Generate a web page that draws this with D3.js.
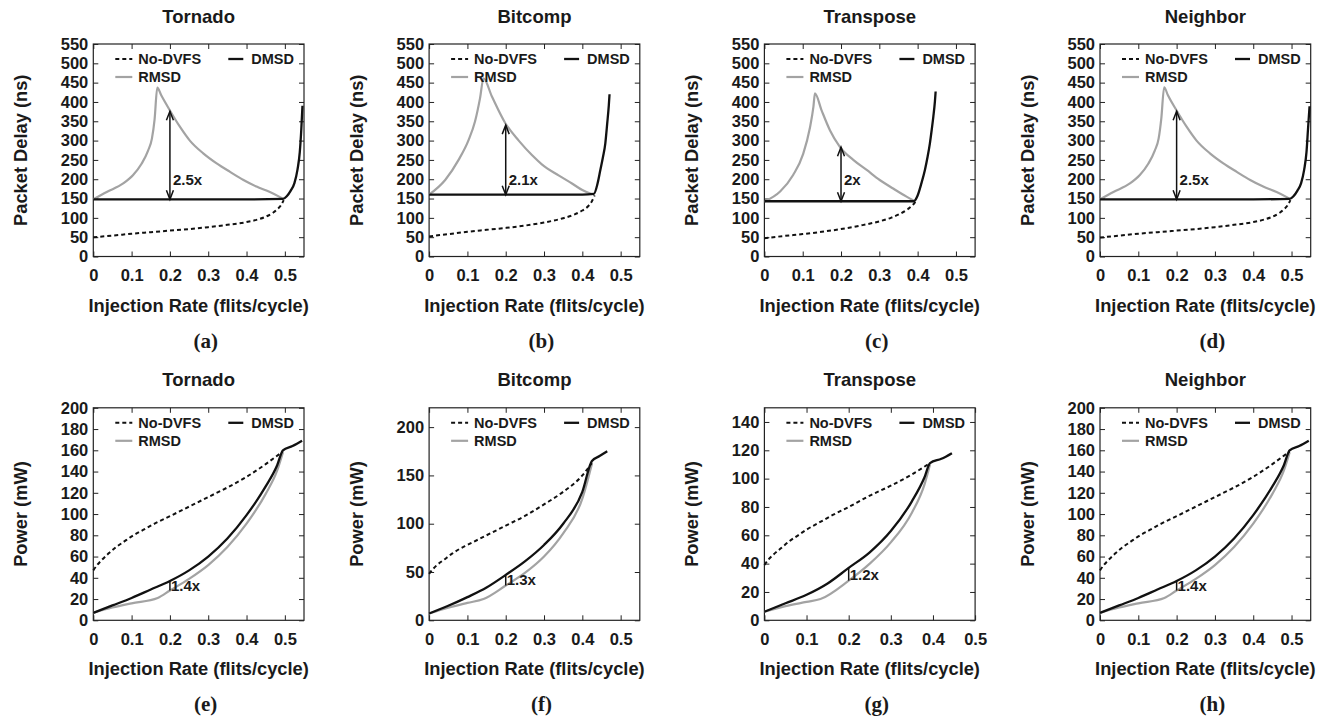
<!DOCTYPE html>
<html><head><meta charset="utf-8">
<script src="https://cdn.jsdelivr.net/npm/d3@7"></script>
<style>
body{margin:0;background:#fff;}
text{font-family:"Liberation Sans",Arial,Helvetica,sans-serif;font-weight:bold;fill:#1a1a1a;}
</style>
</head><body>
<svg id="c" width="1328" height="719"></svg>
<script>
// ---------------- DATA ----------------
const benchmarks = ["Tornado", "Bitcomp", "Transpose", "Neighbor"];
const delayLabels = ["(a)", "(b)", "(c)", "(d)"];
const powerLabels = ["(e)", "(f)", "(g)", "(h)"];
const seriesNames = ["No-DVFS", "DMSD", "RMSD"];
const xTitle = "Injection Rate (flits/cycle)";
const delayTitle = "Packet Delay (ns)";
const powerTitle = "Power (mW)";

const xTicks = [0, 0.1, 0.2, 0.3, 0.4, 0.5];
const delayTicks = [0, 50, 100, 150, 200, 250, 300, 350, 400, 450, 500, 550];
const powerTicks200 = [0, 20, 40, 60, 80, 100, 120, 140, 160, 180, 200];
const powerTicks220 = [0, 50, 100, 150, 200];
const powerTicks150 = [0, 20, 40, 60, 80, 100, 120, 140];
const delayXMax = [0.55, 0.55, 0.55, 0.55];
const powerXMax = [0.55, 0.55, 0.5, 0.55];
const delayYMax = 550;
const powerYMax = [200, 220, 150, 200];

// Tornado - delay
const tornadoDelayNoDVFS = [[0,50],[0.05,54],[0.1,59],[0.15,63],[0.2,67],[0.25,71],[0.3,76],[0.35,82],[0.4,89],[0.43,96],[0.45,103],[0.47,114],[0.48,122],[0.49,133],[0.497,146]];
const tornadoDelayDMSD = [[0,148],[0.1,148],[0.2,148],[0.3,148],[0.4,148],[0.495,149],[0.505,156],[0.515,170],[0.525,190],[0.533,225],[0.539,270],[0.543,330],[0.546,390]];
const tornadoDelayRMSD = [[0,148],[0.035,167],[0.078,189],[0.104,211],[0.126,240],[0.143,274],[0.153,305],[0.16,355],[0.167,437],[0.177,418],[0.2,378],[0.226,336],[0.252,300],[0.287,267],[0.322,241],[0.357,219],[0.392,198],[0.426,181],[0.461,167],[0.485,155],[0.497,148]];
// Bitcomp - delay
const bitcompDelayNoDVFS = [[0,52],[0.05,58],[0.1,64],[0.15,69],[0.2,74],[0.25,80],[0.3,88],[0.35,99],[0.38,109],[0.4,119],[0.415,130],[0.425,143],[0.432,158]];
const bitcompDelayDMSD = [[0,160],[0.1,160],[0.2,160],[0.3,160],[0.4,160],[0.43,162],[0.44,190],[0.447,224],[0.454,258],[0.46,293],[0.465,345],[0.469,390],[0.471,420]];
const bitcompDelayRMSD = [[0,160],[0.042,198],[0.077,250],[0.103,301],[0.12,350],[0.133,410],[0.142,461],[0.164,414],[0.199,345],[0.234,300],[0.269,262],[0.295,238],[0.338,210],[0.373,189],[0.4,172],[0.426,161]];
// Transpose - delay
const transposeDelayNoDVFS = [[0,47],[0.05,53],[0.1,58],[0.15,64],[0.2,71],[0.25,80],[0.3,91],[0.33,100],[0.355,111],[0.375,123],[0.388,134],[0.395,143]];
const transposeDelayDMSD = [[0,143],[0.1,143],[0.2,143],[0.3,143],[0.39,143],[0.4,158],[0.41,190],[0.419,224],[0.426,258],[0.432,293],[0.437,330],[0.441,362],[0.445,400],[0.447,427]];
const transposeDelayRMSD = [[0,142],[0.041,168],[0.075,211],[0.101,265],[0.119,334],[0.128,388],[0.132,422],[0.149,379],[0.171,327],[0.197,284],[0.232,250],[0.267,224],[0.301,198],[0.336,176],[0.371,155],[0.393,143]];
// Neighbor - delay
const neighborDelayNoDVFS = [[0,49],[0.05,54],[0.1,59],[0.15,63],[0.2,67],[0.25,71],[0.3,76],[0.35,82],[0.4,89],[0.43,96],[0.45,103],[0.47,114],[0.48,122],[0.49,133],[0.497,146]];
const neighborDelayDMSD = [[0,148],[0.1,148],[0.2,148],[0.3,148],[0.4,148],[0.495,149],[0.505,156],[0.515,170],[0.525,190],[0.533,225],[0.539,270],[0.543,330],[0.547,389]];
const neighborDelayRMSD = [[0,148],[0.035,167],[0.078,189],[0.104,211],[0.126,240],[0.143,274],[0.153,305],[0.16,357],[0.1675,438],[0.177,418],[0.2,378],[0.226,336],[0.252,300],[0.287,267],[0.322,241],[0.357,219],[0.392,198],[0.426,181],[0.461,167],[0.485,155],[0.497,148]];

// Tornado - power
const tornadoPowerNoDVFS = [[0,47],[0.01,52],[0.02,56],[0.04,63],[0.06,69],[0.08,74],[0.1,79],[0.13,85],[0.16,91],[0.2,98],[0.25,107],[0.3,116],[0.35,125],[0.4,135],[0.45,147],[0.495,159]];
const tornadoPowerDMSD = [[0,7],[0.05,14],[0.1,21],[0.15,29],[0.2,37],[0.25,47],[0.3,60],[0.35,77],[0.4,99],[0.45,126],[0.48,146],[0.495,160],[0.52,164],[0.545,169]];
const tornadoPowerRMSD = [[0,7],[0.05,12],[0.1,16],[0.168,21],[0.2,28],[0.25,39],[0.3,52],[0.35,69],[0.4,91],[0.45,119],[0.48,141],[0.495,158]];
// Bitcomp - power
const bitcompPowerNoDVFS = [[0,48],[0.01,53],[0.02,57],[0.04,63],[0.06,69],[0.08,74],[0.1,78],[0.13,84],[0.16,90],[0.2,98],[0.25,108],[0.3,120],[0.35,133],[0.4,150],[0.425,163]];
const bitcompPowerDMSD = [[0,7],[0.05,15],[0.1,24],[0.15,34],[0.2,47],[0.25,61],[0.3,78],[0.35,100],[0.4,133],[0.425,165],[0.445,170],[0.465,175]];
const bitcompPowerRMSD = [[0,7],[0.05,13],[0.1,18],[0.142,22],[0.2,36],[0.25,49],[0.3,66],[0.35,90],[0.4,126],[0.425,162]];
// Transpose - power
const transposePowerNoDVFS = [[0,39],[0.01,43],[0.02,46],[0.04,51],[0.06,56],[0.08,60],[0.1,64],[0.13,69],[0.16,74],[0.2,80],[0.25,88],[0.3,95],[0.35,103],[0.393,111]];
const transposePowerDMSD = [[0,6],[0.05,12],[0.1,18],[0.15,26],[0.2,37],[0.25,48],[0.3,63],[0.35,84],[0.38,101],[0.393,111],[0.42,114],[0.445,118]];
const transposePowerRMSD = [[0,6],[0.05,10],[0.1,13],[0.133,15],[0.2,28],[0.25,40],[0.3,55],[0.35,76],[0.38,96],[0.393,110]];
// Neighbor - power
const neighborPowerNoDVFS = [[0,47],[0.01,52],[0.02,56],[0.04,63],[0.06,69],[0.08,74],[0.1,79],[0.13,85],[0.16,91],[0.2,98],[0.25,107],[0.3,116],[0.35,125],[0.4,135],[0.45,147],[0.495,159]];
const neighborPowerDMSD = [[0,7],[0.05,14],[0.1,21],[0.15,29],[0.2,37],[0.25,47],[0.3,60],[0.35,77],[0.4,99],[0.45,126],[0.48,146],[0.495,160],[0.52,164],[0.545,169]];
const neighborPowerRMSD = [[0,7],[0.05,12],[0.1,16],[0.168,21],[0.2,28],[0.25,39],[0.3,52],[0.35,69],[0.4,91],[0.45,119],[0.48,141],[0.495,158]];

// annotations: [x, from, to, labelValue]
const delayArrows = [[0.2,148,376,198],[0.2,160,340,198],[0.2,143,283,198],[0.2,148,376,198]];
const delayRatios = ["2.5x", "2.1x", "2x", "2.5x"];
const powerBars = [[0.2,28,37,33],[0.2,36,47,42],[0.2,28,37,32],[0.2,28,37,33]];
const powerRatios = ["1.4x", "1.3x", "1.2x", "1.4x"];

const delaySeries = [
  [tornadoDelayNoDVFS, tornadoDelayDMSD, tornadoDelayRMSD],
  [bitcompDelayNoDVFS, bitcompDelayDMSD, bitcompDelayRMSD],
  [transposeDelayNoDVFS, transposeDelayDMSD, transposeDelayRMSD],
  [neighborDelayNoDVFS, neighborDelayDMSD, neighborDelayRMSD]];
const powerSeries = [
  [tornadoPowerNoDVFS, tornadoPowerDMSD, tornadoPowerRMSD],
  [bitcompPowerNoDVFS, bitcompPowerDMSD, bitcompPowerRMSD],
  [transposePowerNoDVFS, transposePowerDMSD, transposePowerRMSD],
  [neighborPowerNoDVFS, neighborPowerDMSD, neighborPowerRMSD]];
const powerTickSets = [powerTicks200, powerTicks220, powerTicks150, powerTicks200];

// ---------------- LAYOUT ----------------
const svg = d3.select("#c");
const colLeft = [93.3, 429.1, 764.4, 1100];
const frameW = 210.7;
const rows = [{top:44, bottom:256.5}, {top:407.8, bottom:620.3}];
const TICK_FS = 16.5, LEG_FS = 14.5, TITLE_FS = 18.5, AX_FS = 18.3, ANN_FS = 15;
const GRAY = "#a3a3a3", BLACK = "#111";

function drawPanel(p) {
  const g = svg.append("g");
  const left = p.left, right = p.left + frameW, top = p.row.top, bottom = p.row.bottom;
  const x = d3.scaleLinear().domain([0, p.xMax]).range([left, right]);
  const y = d3.scaleLinear().domain([0, p.yMax]).range([bottom, top]);
  const fmt = d3.format("~g");

  const styleAxis = (sel) => {
    sel.select(".domain").remove();
    sel.selectAll(".tick line").attr("stroke", "#222").attr("stroke-width", 1);
    sel.selectAll("text").attr("font-size", TICK_FS).attr("fill", "#1a1a1a");
  };
  g.append("g").attr("transform", `translate(${left},0)`)
    .call(d3.axisLeft(y).tickValues(p.yTicks).tickFormat(fmt).tickSizeInner(-5).tickSizeOuter(0).tickPadding(5))
    .call(styleAxis);
  g.append("g").attr("transform", `translate(${right},0)`)
    .call(d3.axisRight(y).tickValues(p.yTicks).tickFormat("").tickSizeInner(-5).tickSizeOuter(0))
    .call(styleAxis);
  g.append("g").attr("transform", `translate(0,${bottom})`)
    .call(d3.axisBottom(x).tickValues(xTicks).tickFormat(fmt).tickSizeInner(-5).tickSizeOuter(0).tickPadding(13))
    .call(styleAxis);
  g.append("g").attr("transform", `translate(0,${top})`)
    .call(d3.axisTop(x).tickValues(xTicks).tickFormat("").tickSizeInner(-5).tickSizeOuter(0))
    .call(styleAxis);
  g.selectAll("g text").attr("font-family", null);

  // frame
  g.append("rect").attr("x", left).attr("y", top).attr("width", right - left).attr("height", bottom - top)
    .attr("fill", "none").attr("stroke", "#222").attr("stroke-width", 1.2);

  // series
  const line = d3.line().curve(d3.curveMonotoneX).x(d => x(d[0])).y(d => y(d[1]));
  const [noDvfs, dmsd, rmsd] = p.series;
  g.append("path").datum(rmsd).attr("d", line).attr("fill", "none").attr("stroke", GRAY).attr("stroke-width", 2.2).attr("stroke-linejoin", "round");
  g.append("path").datum(noDvfs).attr("d", line).attr("fill", "none").attr("stroke", BLACK).attr("stroke-width", 2).attr("stroke-dasharray", "4,3");
  g.append("path").datum(dmsd).attr("d", line).attr("fill", "none").attr("stroke", BLACK).attr("stroke-width", 2.3).attr("stroke-linejoin", "round");

  // annotation
  const [ax, a0, a1, av] = p.ann;
  const X = x(ax), Y0 = y(a0), Y1 = y(a1);
  g.append("line").attr("x1", X).attr("x2", X).attr("y1", Y0).attr("y2", Y1).attr("stroke", BLACK).attr("stroke-width", 1.5);
  if (p.arrow) {
    const hl = 9, hw = 3.5;
    g.append("path").attr("d", `M${X-hw},${Y1+hl}L${X},${Y1}L${X+hw},${Y1+hl}`).attr("fill", "none").attr("stroke", BLACK).attr("stroke-width", 1.5);
    g.append("path").attr("d", `M${X-hw},${Y0-hl}L${X},${Y0}L${X+hw},${Y0-hl}`).attr("fill", "none").attr("stroke", BLACK).attr("stroke-width", 1.5);
  }
  g.append("text").attr("x", X + (p.arrow ? 3 : 1)).attr("y", y(av)).attr("dy", "0.36em")
    .attr("font-size", ANN_FS).text(p.ratio);

  // legend
  const lx = left, ly1 = top + 15, ly2 = top + 33;
  g.append("line").attr("x1", lx + 22).attr("x2", lx + 39).attr("y1", ly1).attr("y2", ly1)
    .attr("stroke", BLACK).attr("stroke-width", 2).attr("stroke-dasharray", "4,3");
  g.append("text").attr("x", lx + 45).attr("y", ly1).attr("dy", "0.36em").attr("font-size", LEG_FS).text(seriesNames[0]);
  g.append("line").attr("x1", lx + 135).attr("x2", lx + 150).attr("y1", ly1).attr("y2", ly1)
    .attr("stroke", BLACK).attr("stroke-width", 2.3);
  g.append("text").attr("x", lx + 158).attr("y", ly1).attr("dy", "0.36em").attr("font-size", LEG_FS).text(seriesNames[1]);
  g.append("line").attr("x1", lx + 22).attr("x2", lx + 39).attr("y1", ly2).attr("y2", ly2)
    .attr("stroke", GRAY).attr("stroke-width", 2.2);
  g.append("text").attr("x", lx + 45).attr("y", ly2).attr("dy", "0.36em").attr("font-size", LEG_FS).text(seriesNames[2]);

  // titles
  const cx = (left + right) / 2;
  g.append("text").attr("x", cx).attr("y", top - 21.5).attr("text-anchor", "middle").attr("font-size", TITLE_FS).text(p.title);
  g.append("text").attr("x", cx).attr("y", bottom + 55).attr("text-anchor", "middle").attr("font-size", AX_FS).text(xTitle);
  g.append("text").attr("transform", `translate(${left - 66},${(top + bottom) / 2}) rotate(-90)`)
    .attr("text-anchor", "middle").attr("font-size", AX_FS).text(p.yTitle);
  g.append("text").attr("x", cx + 7).attr("y", bottom + 91).attr("text-anchor", "middle")
    .attr("font-size", 21).style("font-family", '"Liberation Serif","Times New Roman",serif').text(p.label);
}

benchmarks.forEach((b, i) => {
  drawPanel({left: colLeft[i], row: rows[0], xMax: delayXMax[i], yMax: delayYMax, yTicks: delayTicks,
    series: delaySeries[i], ann: delayArrows[i], ratio: delayRatios[i], arrow: true,
    title: b, yTitle: delayTitle, label: delayLabels[i]});
  drawPanel({left: colLeft[i], row: rows[1], xMax: powerXMax[i], yMax: powerYMax[i], yTicks: powerTickSets[i],
    series: powerSeries[i], ann: powerBars[i], ratio: powerRatios[i], arrow: false,
    title: b, yTitle: powerTitle, label: powerLabels[i]});
});
</script>
</body></html>
